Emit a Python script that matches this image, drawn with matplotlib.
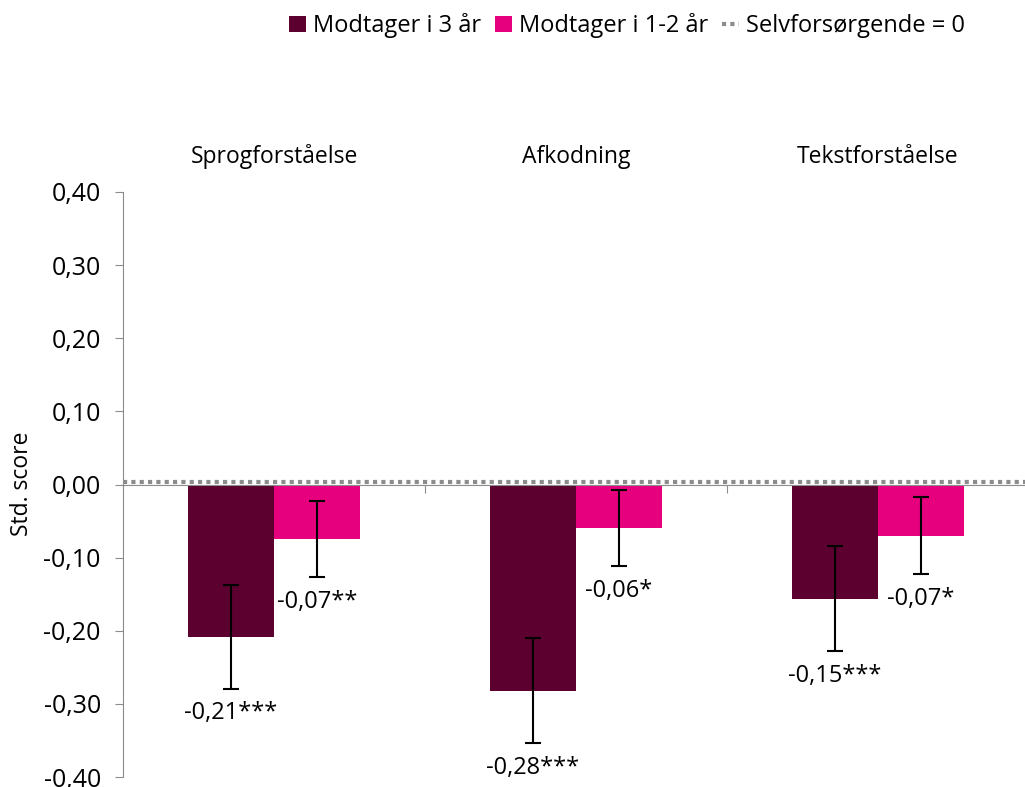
import matplotlib.pyplot as plt
import numpy as np

kategorier = ['Sprogforståelse', 'Afkodning', 'Tekstforståelse']
modtager_3 = [-0.208, -0.282, -0.156]
modtager_12 = [-0.075, -0.060, -0.070]
fejl_3 = [0.071, 0.072, 0.072]
fejl_12 = [0.052, 0.052, 0.053]
etiket_3 = ['-0,21***', '-0,28***', '-0,15***']
etiket_12 = ['-0,07**', '-0,06*', '-0,07*']
yticks = [0.4, 0.3, 0.2, 0.1, 0.0, -0.1, -0.2, -0.3, -0.4]

plt.rcParams['font.family'] = ['Open Sans', 'DejaVu Sans']

fig = plt.figure(figsize=(10.25, 7.87), dpi=100)
ax = fig.add_axes([123/1025, 10/787, 902/1025, 585/787])

x = np.arange(len(kategorier))
w = 0.285
mork = '#5C0030'
pink = '#E6007E'

b1 = ax.bar(x - w/2, modtager_3, w, color=mork)
b2 = ax.bar(x + w/2, modtager_12, w, color=pink)
ax.errorbar(x - w/2, modtager_3, yerr=fejl_3, fmt='none', ecolor='black', elinewidth=1.5, capsize=6, capthick=1.5)
ax.errorbar(x + w/2, modtager_12, yerr=fejl_12, fmt='none', ecolor='black', elinewidth=1.5, capsize=6, capthick=1.5)
nul = ax.axhline(0.003, color='#8C8C8C', lw=3, ls=(0, (1, 1)), zorder=5)

for i in range(len(kategorier)):
    ax.annotate(etiket_3[i], (x[i] - w/2, modtager_3[i] - fejl_3[i]), xytext=(0, -9),
                textcoords='offset points', ha='center', va='top', fontsize=17)
    ax.annotate(etiket_12[i], (x[i] + w/2, modtager_12[i] - fejl_12[i]), xytext=(0, -9),
                textcoords='offset points', ha='center', va='top', fontsize=17)
    ax.text(x[i], 1.06, kategorier[i], transform=ax.get_xaxis_transform(),
            ha='center', va='center', fontsize=16.5)

ax.set_xlim(-0.5, -0.5 + 902/302)
ax.set_ylim(-0.4, 0.4)
ax.set_yticks(yticks)
ax.set_yticklabels([f'{v:.2f}'.replace('.', ',') for v in yticks], fontsize=18)
fig.text(22/1025, 1 - 484/787, 'Std. score', rotation=90, ha='center', va='center', fontsize=16.5)

ax.spines['top'].set_visible(False)
ax.spines['right'].set_visible(False)
ax.spines['left'].set_color('#8C8C8C')
ax.spines['bottom'].set_position(('data', 0))
ax.spines['bottom'].set_color('#8C8C8C')
ax.set_xticks([0.5, 1.5])
ax.set_xticklabels([])
ax.tick_params(axis='x', direction='out', length=6, color='#8C8C8C')
ax.tick_params(axis='y', direction='out', length=6, color='#8C8C8C', pad=10)

fig.legend([b1, b2, nul], ['Modtager i 3 år', 'Modtager i 1-2 år', 'Selvforsørgende = 0'],
           loc='upper right', bbox_to_anchor=(0.962, 1.01), ncol=3, frameon=False, fontsize=17,
           handlelength=0.7, handletextpad=0.3, columnspacing=0.6)

fig.savefig('out.png', dpi=100)
